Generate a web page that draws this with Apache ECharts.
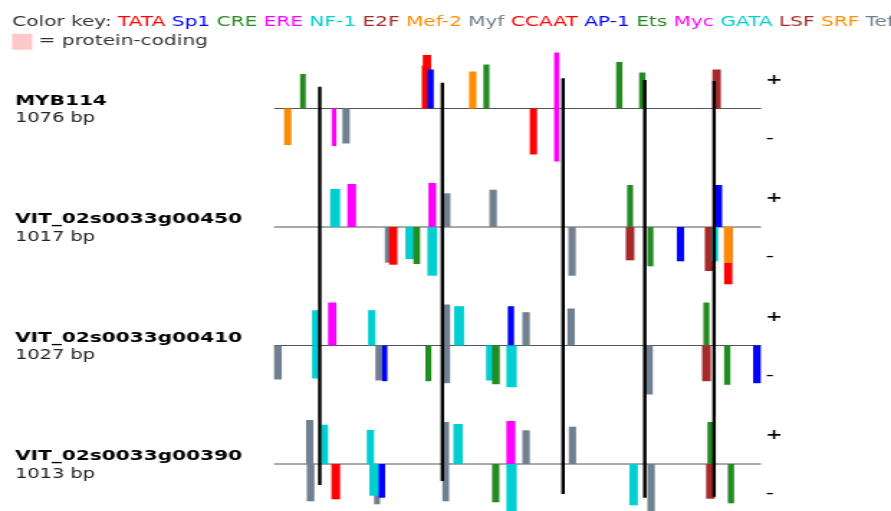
<!DOCTYPE html>
<html>
<head>
<meta charset="utf-8">
<script src="https://cdn.jsdelivr.net/npm/echarts@6/dist/echarts.min.js"></script>
<style>
  html, body { margin: 0; padding: 0; overflow: hidden; background: #fff; }
  /* the source picture is stretched sideways, so draw narrow and widen it */
  #chart { width: 620px; height: 511px; transform: scaleX(1.4371); transform-origin: 0 0; }
</style>
</head>
<body>
<div id="chart"></div>
<script>
// promoter tracks, top to bottom
const trackNames = ['MYB114', 'VIT_02s0033g00450', 'VIT_02s0033g00410', 'VIT_02s0033g00390']
const trackLengths = [1076, 1017, 1027, 1013]

const motifNames = ['TATA', 'Sp1', 'CRE', 'ERE', 'NF-1', 'E2F', 'Mef-2', 'Myf',
  'CCAAT', 'AP-1', 'Ets', 'Myc', 'GATA', 'LSF', 'SRF', 'Tef']
const motifColors = ['#ff0000', '#0000ff', '#228b22', '#ff00ff', '#00ced1', '#a52a2a', '#ff8c00', '#708090',
  '#ff0000', '#0000ff', '#228b22', '#ff00ff', '#00ced1', '#a52a2a', '#ff8c00', '#708090']

// sites: [start, end, score, motif]  score > 0 = plus strand, < 0 = minus strand
const sitesMYB114 = [
  [10, 17.3, -36.5, 'Mef-2'],
  [26, 31.7, 34.5, 'CRE'],
  [57.7, 62.3, -37.5, 'ERE'],
  [68.3, 75.7, -35, 'Myf'],
  [148.7, 157, 53.5, 'TATA'],
  [147.7, 154, 43, 'TATA'],
  [153.3, 159.7, 39, 'Sp1'],
  [195, 202.3, 37, 'Mef-2'],
  [209.3, 215.3, 44, 'CRE'],
  [255.7, 263, -46, 'TATA'],
  [280, 285.3, 56, 'ERE'],
  [280, 285.3, -53, 'ERE'],
  [342, 348.3, 46.5, 'CRE'],
  [365, 371.3, 36, 'CRE'],
  [438.3, 446.7, 39, 'E2F']
]
const sites00450 = [
  [56, 66, 38, 'NF-1'],
  [73.3, 82, 43, 'ERE'],
  [110.7, 117.3, -35.7, 'Myf'],
  [115, 123.3, -37.7, 'TATA'],
  [131.3, 140, -32, 'NF-1'],
  [139.3, 146, -37, 'CRE'],
  [153.3, 163, -48.7, 'NF-1'],
  [154.3, 162, 44, 'ERE'],
  [169.7, 176.3, 33.7, 'Myf'],
  [215.3, 222.7, 37.3, 'Myf'],
  [294.3, 301.7, -48.7, 'Myf'],
  [353, 359, 42, 'CRE'],
  [351.7, 360.3, -33.3, 'E2F'],
  [373.3, 379.3, -39.3, 'CRE'],
  [402.7, 410, -34.3, 'Sp1'],
  [430.7, 438.7, -44, 'E2F'],
  [437.7, 444, -34.3, 'NF-1'],
  [441, 448, 42, 'Sp1'],
  [450, 458.3, -57.3, 'TATA'],
  [450, 458.3, -36, 'Mef-2']
]
const sites00410 = [
  [0, 7.7, -34, 'Myf'],
  [38, 44.7, 35.3, 'NF-1'],
  [38, 44.7, -33, 'NF-1'],
  [54, 62.3, 43, 'ERE'],
  [94, 101.3, 35.3, 'NF-1'],
  [101.3, 108.7, -35, 'Myf'],
  [108, 113.3, -35.7, 'Sp1'],
  [151.3, 157.3, -35.7, 'CRE'],
  [169.3, 176, 41, 'Myf'],
  [169.3, 176, -37.7, 'Myf'],
  [180, 190, 39.3, 'NF-1'],
  [212, 219.3, -35, 'NF-1'],
  [218, 225.7, -38.7, 'CRE'],
  [233.7, 240, 39.3, 'Sp1'],
  [232.3, 242.7, -41.7, 'NF-1'],
  [248.3, 255.7, 33.3, 'Myf'],
  [293.3, 300.7, 37, 'Myf'],
  [371.3, 378.7, -49, 'Myf'],
  [429.3, 435.3, 43, 'CRE'],
  [428, 436.7, -35.7, 'E2F'],
  [450, 456.3, -39.3, 'CRE'],
  [479, 486.7, -37.7, 'Sp1']
]
const sites00390 = [
  [32, 39.3, 44, 'Myf'],
  [32.7, 40.3, -37.3, 'Myf'],
  [47.3, 54, 39.3, 'NF-1'],
  [57.3, 66, -35.3, 'TATA'],
  [92.7, 100, 34, 'NF-1'],
  [100, 106, -40.3, 'Myf'],
  [95.3, 105.3, -31.7, 'NF-1'],
  [104.7, 111, -33.7, 'Sp1'],
  [168.3, 175, 42, 'Myf'],
  [168.3, 175, -37.3, 'Myf'],
  [179.3, 188.7, 40, 'NF-1'],
  [218, 225.3, -38.3, 'CRE'],
  [232.3, 241.3, 43, 'ERE'],
  [232.3, 242.7, -50, 'NF-1'],
  [248.3, 255.7, 33.7, 'Myf'],
  [294.7, 302, 37.3, 'Myf'],
  [355.3, 363.7, -41.3, 'NF-1'],
  [373.3, 380.7, -50, 'Myf'],
  [433.3, 439.3, 42, 'CRE'],
  [432, 440.7, -34.7, 'E2F'],
  [453.7, 460, -39.3, 'CRE']
]
const trackSites = [sitesMYB114, sites00450, sites00410, sites00390]

// black markers across all tracks: [position, top, bottom] (relative to first baseline)
const markers = [
  [45.7, 21.8, -376.5],
  [168.3, 25.8, -372.5],
  [289, 30.2, -385.5],
  [370.7, 28.5, -389.2],
  [440, 27.5, -388.2]
]

const POS_MAX = 487
const TRACK_GAP = 118.5
const FONT = 'DejaVu Sans'

const chart = echarts.init(document.getElementById('chart'))

const allSites = []
trackSites.forEach((list, t) => {
  list.forEach(s => allSites.push({ track: t, start: s[0], end: s[1], score: s[2], motif: s[3] }))
})

function colorOf(m) {
  return motifColors[motifNames.indexOf(m)]
}

const rich = {
  box: { width: 14, height: 16, backgroundColor: '#ffc8c8' }
}
motifNames.forEach((n, i) => {
  rich['m' + i] = { color: motifColors[i], fontFamily: FONT, fontSize: 14 }
})
const keyText = 'Color key: ' + motifNames.map((n, i) => '{m' + i + '|' + n + '}').join(' ') +
  '\n{box|} = protein-coding'

let option = {
  animation: false,
  title: {
    left: 8.4,
    top: 12.5,
    padding: 0,
    text: keyText,
    textStyle: {
      fontFamily: FONT,
      fontSize: 14,
      fontWeight: 'normal',
      color: '#333',
      lineHeight: 19.5,
      rich: rich
    }
  },
  grid: { left: 190.7, top: 36, width: 338.9, height: 475 },
  xAxis: { type: 'value', min: 0, max: POS_MAX, show: false },
  yAxis: { type: 'value', min: -402.5, max: 72.5, show: false },
  series: [
    {
      // baselines and labels
      type: 'custom',
      data: trackNames.map((n, i) => [0, -i * TRACK_GAP]),
      encode: { x: 0, y: 1 },
      renderItem: function (params, api) {
        const i = params.dataIndex
        const base = -i * TRACK_GAP
        const a = api.coord([0, base])
        const b = api.coord([POS_MAX, base])
        return {
          type: 'group',
          children: [
            { type: 'line', shape: { x1: a[0], y1: a[1], x2: b[0], y2: b[1] }, style: { stroke: '#555', lineWidth: 1 } },
            { type: 'text', x: 10.4, y: a[1] - 7.5, style: { text: trackNames[i], fontFamily: FONT, fontSize: 14, fontWeight: 'bold', fill: '#000', verticalAlign: 'middle' } },
            { type: 'text', x: 10.4, y: a[1] + 10, style: { text: trackLengths[i] + ' bp', fontFamily: FONT, fontSize: 13.5, fill: '#222', verticalAlign: 'middle' } },
            { type: 'text', x: b[0] + 9, y: a[1] - 28.5, style: { text: '+', fontFamily: FONT, fontSize: 14, fontWeight: 'bold', fill: '#000', align: 'center', verticalAlign: 'middle' } },
            { type: 'text', x: b[0] + 6, y: a[1] + 30, style: { text: '-', fontFamily: FONT, fontSize: 16, fill: '#000', align: 'center', verticalAlign: 'middle' } }
          ]
        }
      }
    },
    {
      // motif sites
      type: 'custom',
      data: allSites.map(s => [s.start, -s.track * TRACK_GAP + s.score]),
      encode: { x: 0, y: 1 },
      renderItem: function (params, api) {
        const s = allSites[params.dataIndex]
        const base = -s.track * TRACK_GAP
        const p0 = api.coord([s.start, base])
        const p1 = api.coord([s.end, base + s.score])
        return {
          type: 'rect',
          shape: { x: p0[0], y: Math.min(p0[1], p1[1]), width: p1[0] - p0[0], height: Math.abs(p1[1] - p0[1]) },
          style: { fill: colorOf(s.motif) }
        }
      }
    },
    {
      // black markers
      type: 'custom',
      data: markers.map(m => [m[0], m[1]]),
      encode: { x: 0, y: 1 },
      renderItem: function (params, api) {
        const m = markers[params.dataIndex]
        const t = api.coord([m[0], m[1]])
        const b = api.coord([m[0], m[2]])
        return {
          type: 'line',
          shape: { x1: t[0], y1: t[1], x2: b[0], y2: b[1] },
          style: { stroke: '#000', lineWidth: 2.4 }
        }
      }
    }
  ]
}
option && chart.setOption(option)
</script>
</body>
</html>
